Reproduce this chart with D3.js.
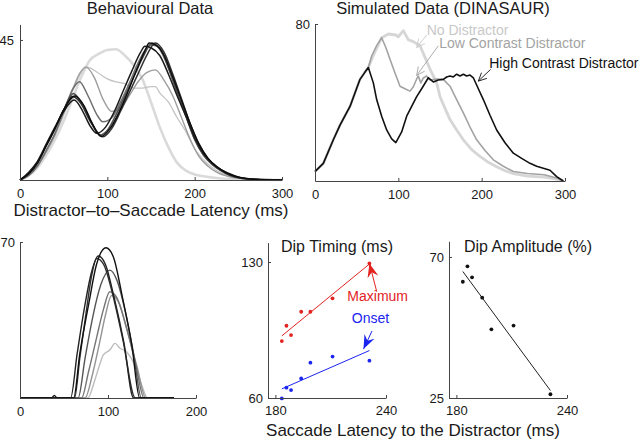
<!DOCTYPE html>
<html><head><meta charset="utf-8">
<script src="https://cdn.jsdelivr.net/npm/d3@7"></script>
<style>body{margin:0;background:#fff}svg{display:block;font-family:"Liberation Sans",Arial,Helvetica,sans-serif}</style>
</head><body><svg id="c" width="640" height="440"></svg>
<script>
// ---------------- DATA ----------------
// Behavioural data: distractor-to-saccade latency (ms) vs density
const behavNoDistractor = [[0,0],[10,1.5],[20,4],[30,8],[40,13],[50,19],[60,26],[70,33],[80,38.5],[90,40.5],[100,41.8],[110,42],[120,40],[130,37],[140,32.5],[150,25],[160,17],[170,10.5],[180,5.5],[190,3],[200,1.8],[210,1.2],[220,0.8],[230,0.5],[240,0.3],[260,0.1],[300,0]];
const behavCond1 = [[0,0],[10,1.5],[20,4.5],[30,9],[40,14.5],[50,21],[60,28.5],[70,34.5],[75,36.4],[80,36],[90,34.3],[100,32.5],[110,31.5],[120,31],[130,29.5],[140,29.5],[150,30],[155,30],[160,28],[170,25],[180,20],[190,15.5],[200,10],[210,6.5],[220,4],[230,2.3],[240,1.2],[250,0.6],[260,0.3],[280,0.1],[300,0]];
const behavCond2 = [[0,0],[10,1.5],[20,4.5],[30,9],[40,14.5],[50,21.5],[60,29],[70,35],[76,36.2],[85,33],[95,26],[105,22],[115,23],[125,27],[135,31.5],[145,34.5],[155,35.4],[165,32],[175,27],[185,20],[195,13],[205,7.5],[215,4.5],[225,2.5],[240,1],[260,0.3],[300,0]];
const behavCond3 = [[0,0],[10,1.5],[20,4.5],[30,9.5],[40,15],[50,22],[60,29],[68,31.6],[78,27],[88,21],[95,18.7],[105,20],[115,25],[125,31],[135,37.5],[145,42.5],[152,44],[160,42],[170,36],[180,28],[190,20.5],[200,13],[210,8],[220,5],[230,3],[240,1.5],[250,0.7],[260,0.3],[300,0]];
const behavCond4 = [[0,0],[10,2],[20,5.5],[30,11],[40,16.5],[50,22.5],[61,27.8],[70,25],[80,19.5],[92,14.5],[100,16],[110,21],[120,27],[130,33],[140,39],[150,43.5],[160,42.5],[170,36],[180,28],[190,20.5],[200,13],[210,8],[220,5],[230,3],[240,1.5],[250,0.7],[260,0.3],[300,0]];
const behavCond5 = [[0,0],[10,2],[20,5.5],[30,11],[40,16.5],[50,22.5],[60,26.8],[70,24.5],[80,19],[95,13.9],[105,16.5],[115,22],[125,28],[135,34],[145,40],[155,44],[165,41],[175,34],[185,26],[195,18],[205,11.5],[215,7],[225,4.3],[235,2.5],[245,1.2],[255,0.6],[270,0.2],[300,0]];
const behavCond6 = [[0,0],[10,2.5],[20,6],[30,11.5],[40,17],[50,22],[62,25.7],[72,22],[80,17.5],[88,15],[98,17],[108,22],[118,28.5],[128,35],[138,41],[143,43],[150,42.5],[160,40],[170,34],[180,27],[190,20.5],[200,13.5],[210,8.5],[220,5.5],[230,3.3],[240,2],[250,1],[260,0.5],[280,0.1],[300,0]];
const behavCond7 = [[0,0],[10,2],[20,5.5],[30,11],[40,16.5],[50,22.5],[63,27],[73,24],[83,18],[93,14],[103,16.5],[113,21.5],[123,28],[133,35],[143,41.5],[148,44],[155,43.5],[165,40],[175,33],[185,25.5],[195,18],[205,11.5],[215,7],[225,4.3],[235,2.5],[245,1.3],[255,0.6],[270,0.2],[300,0]];
const behavSeries = [behavNoDistractor, behavCond1, behavCond2, behavCond3, behavCond4, behavCond5, behavCond6, behavCond7];

// Simulated data (DINASAUR)
const simNoDistractor = [[0,4.8],[10,9],[22,21],[30,28.5],[42,38],[54,51.8],[60,55.5],[64,57.8],[70,64],[80,73],[88,74.9],[97,74.4],[100,73.5],[106,76.6],[112,72],[118,71],[126,68.9],[132,63],[138,57],[146,50],[150,43],[156,37],[162,31.3],[170,26],[178,21],[188,16],[198,12.5],[208,9.5],[218,7.3],[228,5.2],[238,3.7],[255,2.5],[275,2],[290,1],[298,0]];
const simLowContrast = [[0,4.8],[10,9],[22,21],[30,28.5],[42,38],[54,51.8],[60,55.5],[64,57.8],[68,63.7],[74,69],[80,73],[85,68],[90,62],[96,55],[102,48.3],[108,47],[114,45.8],[118,48],[122,52],[124,53.5],[127,50],[130,52.5],[134,53.5],[138,51.5],[146,52],[154,51.8],[162,48.3],[170,41.5],[178,34.7],[186,27.5],[194,21],[204,15.5],[214,10.8],[226,7.5],[238,4.8],[255,3.8],[275,3.2],[290,1.5],[298,0]];
const simHighContrast = [[0,4.8],[10,9],[22,21],[30,28.5],[42,38],[54,51.8],[60,55.5],[64,57.8],[70,50],[74,41.5],[80,33],[86,26],[92,21.5],[97,19.6],[104,25],[110,33],[116,38],[122,43],[128,47],[136,52.6],[142,50.5],[148,51.5],[154,51.8],[158,53],[162,53.5],[166,53],[170,54.4],[174,53.5],[178,54.4],[182,53.5],[186,54],[190,52.6],[196,47],[202,41.5],[210,33.5],[218,26],[228,19.5],[238,14.2],[248,11.5],[258,9],[266,7.5],[274,6.5],[282,5.5],[290,2.2],[298,0]];
const simSeries = [simNoDistractor, simLowContrast, simHighContrast];
const simLabels = ["No Distractor","Low Contrast Distractor","High Contrast Distractor"];
// label anchor (data units) and arrow tail/tip (data units)
const simLabelPos = [[134,74.4],[149,68],[209,57.4]];
const simArrowTail = [[134,74.4],[148,68.9],[210.8,56.9]];
const simArrowTip = [[122,68],[122,53.8],[196,50.9]];

// Bottom-left: dip profiles
const dipA = [[0,0],[36,0],[39,1.2],[42,0],[61,0],[68,20],[78,42],[87,60],[97.7,67.4],[106,63.4],[117,44],[127,24],[136,0],[175,0]];
const dipB = [[0,0],[57.5,0],[65,20],[73,40],[81,56],[89,63.7],[97,60],[107,45],[118,25],[129,0],[175,0]];
const dipC = [[0,0],[62,0],[68,18],[75,38],[81,54],[87,62.6],[95,60],[105,47],[117,26],[131,0],[175,0]];
const dipD = [[0,0],[66,0],[74,18],[83,37],[92,51],[102,57.4],[110,53],[119,40],[129,20],[138,0],[175,0]];
const dipE = [[0,0],[70,0],[78,12],[87,27],[95,40],[102,47.7],[110,45],[120,33],[131,16],[141,0],[175,0]];
const dipF = [[0,0],[74,0],[82,10],[90,24],[97,37],[104,46],[112,43],[122,30],[133,14],[143,0],[175,0]];
const dipG = [[0,0],[77,0],[85,8],[91,15.5],[94.7,19.3],[102,21.5],[108,24.5],[113.6,22.3],[121,20.8],[132.6,12.6],[139,5],[145,0],[175,0]];
const dipSeries = [dipG, dipF, dipE, dipD, dipC, dipB, dipA];

// Dip timing & amplitude vs saccade latency
const saccLatency = [183.5, 186, 188.5, 194, 199, 211, 231];
const dipMaximum = [89.3, 97.2, 92.4, 104.4, 104.4, 111.3, 129.3];
const dipOnset = [59.8, 65.3, 64.1, 70.1, 78.2, 81.3, 79.2];
const dipAmplitude = [62.1, 67.0, 63.5, 57.0, 46.9, 48.1, 26.2];

// tick labels
const p1XTicks = [0,100,200,300], p1YTicks = [45];
const p2XTicks = [0,100,200,300], p2YTicks = [80];
const p3XTicks = [0,100,200], p3YTicks = [70];
const p4XTicks = [180,240], p4YTicks = [60,130];
const p5XTicks = [180,240], p5YTicks = [25,70];

// ---------------- DRAW ----------------
const svg = d3.select("#c");
const FONT = 13;

function axes(sx, sy, xt, yt, padX, padY) {
  const gx = svg.append("g").attr("transform", `translate(0,${sy.range()[0]})`)
    .call(d3.axisBottom(sx).tickValues(xt).tickFormat(d3.format("d")).tickSizeInner(-3).tickSizeOuter(0).tickPadding(padX));
  const gy = svg.append("g").attr("transform", `translate(${sx.range()[0]},0)`)
    .call(d3.axisLeft(sy).tickValues(yt).tickFormat(d3.format("d")).tickSizeInner(-3).tickSizeOuter(0).tickPadding(padY));
  [gx, gy].forEach(g => {
    g.select(".domain").attr("stroke", "#444").attr("stroke-width", 1);
    g.selectAll(".tick line").attr("stroke", "#444");
    g.selectAll(".tick text").attr("fill", "#1a1a1a").style("font-size", FONT + "px").style("font-family", '"Liberation Sans",Arial,sans-serif');
  });
}
function text(x, y, s, size, color, anchor) {
  svg.append("text").attr("x", x).attr("y", y).attr("text-anchor", anchor || "middle")
    .attr("fill", color || "#1a1a1a").style("font-size", size + "px").text(s);
}

// Panel 1
const sx1 = d3.scaleLinear().domain([0,300]).range([20,282]);
const sy1 = d3.scaleLinear().domain([0,50]).range([180,24.4]);
const line1 = d3.line().x(d=>sx1(d[0])).y(d=>sy1(d[1])).curve(d3.curveMonotoneX);
const behavColors = ["#dadada","#c4c4c4","#9d9d9d","#707070","#4d4d4d","#333333","#1c1c1c","#0d0d0d"];
const behavW = [2.6,1.3,1.4,1.5,1.5,1.5,1.5,1.5];
behavSeries.forEach((s,i)=>{
  svg.append("path").attr("d", line1(s)).attr("fill","none").attr("stroke",behavColors[i]).attr("stroke-width",behavW[i]).attr("stroke-linejoin","round");
});
axes(sx1, sy1, p1XTicks, p1YTicks, 9, 6);
text(150, 14, "Behavioural Data", 16.5);
text(151, 216, "Distractor\u2013to\u2013Saccade Latency (ms)", 17);

// Panel 2
const sx2 = d3.scaleLinear().domain([0,300]).range([315,565]);
const sy2 = d3.scaleLinear().domain([0,80]).range([181,24]);
const line2 = d3.line().x(d=>sx2(d[0])).y(d=>sy2(d[1]));
const simColors = ["#d6d6d6","#a3a3a3","#111111"];
const simW = [2.8,1.6,1.6];
const simText = ["#c8c8c8","#a3a3a3","#111111"];
simSeries.forEach((s,i)=>{
  svg.append("path").attr("d", line2(s)).attr("fill","none").attr("stroke",simColors[i]).attr("stroke-width",simW[i]).attr("stroke-linejoin","round");
});
simLabels.forEach((lab,i)=>{
  text(sx2(simLabelPos[i][0]), sy2(simLabelPos[i][1]), lab, 14, simText[i], "start");
  const x1 = sx2(simArrowTail[i][0]), y1 = sy2(simArrowTail[i][1]);
  const x2 = sx2(simArrowTip[i][0]), y2 = sy2(simArrowTip[i][1]);
  const col = i===0 ? "#c8c8c8" : simText[i];
  svg.append("line").attr("x1",x1).attr("y1",y1).attr("x2",x2).attr("y2",y2).attr("stroke",col).attr("stroke-width",0.9);
  const a = Math.atan2(y1-y2, x1-x2), L = 9, h = 0.45;
  const p = `M${x2+L*Math.cos(a+h)},${y2+L*Math.sin(a+h)}L${x2},${y2}L${x2+L*Math.cos(a-h)},${y2+L*Math.sin(a-h)}`;
  svg.append("path").attr("d",p).attr("fill","none").attr("stroke",col).attr("stroke-width",0.9);
});
axes(sx2, sy2, p2XTicks, p2YTicks, 9, 5);
text(443, 14, "Simulated Data (DINASAUR)", 16.5);

// Panel 3
const sx3 = d3.scaleLinear().domain([0,200]).range([20,196]);
const sy3 = d3.scaleLinear().domain([0,70]).range([398,242]);
const line3 = d3.line().x(d=>sx3(d[0])).y(d=>sy3(d[1])).curve(d3.curveMonotoneX);
const dipColors = ["#bdbdbd","#939393","#757575","#555555","#333333","#222222","#111111"];
dipSeries.forEach((s,i)=>{
  svg.append("path").attr("d", line3(s)).attr("fill","none").attr("stroke",dipColors[i]).attr("stroke-width",1.4).attr("stroke-linejoin","round");
});
axes(sx3, sy3, p3XTicks, p3YTicks, 9, 5);

// Panel 4
const sx4 = d3.scaleLinear().domain([176,240]).range([268,386]);
const sy4 = d3.scaleLinear().domain([60,140]).range([398,242.6]);
function fit(xs, ys) {
  const mx = d3.mean(xs), my = d3.mean(ys);
  const b = d3.sum(xs.map((x,i)=>(x-mx)*(ys[i]-my))) / d3.sum(xs.map(x=>(x-mx)*(x-mx)));
  return x => my + b*(x-mx);
}
const RED = "#e2231f", BLUE = "#1c24f0";
[[dipMaximum, RED],[dipOnset, BLUE]].forEach(([ys,col])=>{
  const f = fit(saccLatency, ys);
  const x0 = d3.min(saccLatency), x1 = d3.max(saccLatency);
  svg.append("line").attr("x1",sx4(x0)).attr("y1",sy4(f(x0))).attr("x2",sx4(x1)).attr("y2",sy4(f(x1))).attr("stroke",col).attr("stroke-width",1);
  svg.selectAll(null).data(saccLatency).enter().append("circle")
    .attr("cx",d=>sx4(d)).attr("cy",(d,i)=>sy4(ys[i])).attr("r",1.9).attr("fill",col);
});
function filledArrow(x1,y1,x2,y2,col){
  svg.append("line").attr("x1",x1).attr("y1",y1).attr("x2",x2).attr("y2",y2).attr("stroke",col).attr("stroke-width",1);
  const a = Math.atan2(y1-y2, x1-x2), L = 14, W = 5.5;
  const bx = x2+L*Math.cos(a), by = y2+L*Math.sin(a);
  const nx = x2+0.65*L*Math.cos(a), ny = y2+0.65*L*Math.sin(a);
  const px = -Math.sin(a), py = Math.cos(a);
  svg.append("path").attr("d",`M${x2},${y2}L${bx+W*px},${by+W*py}L${nx},${ny}L${bx-W*px},${by-W*py}Z`).attr("fill",col);
}
filledArrow(sx4(235), sy4(114.7), sx4(231), sy4(129.3), RED);
filledArrow(sx4(232.4), sy4(94.5), sx4(227.8), sy4(85.2), BLUE);
text(sx4(235.5), sy4(109.9), "Maximum", 14, RED);
text(sx4(231.6), sy4(98.7), "Onset", 14, BLUE);
axes(sx4, sy4, p4XTicks, p4YTicks, 8, 5);
text(337, 252, "Dip Timing (ms)", 16);

// Panel 5
const sx5 = d3.scaleLinear().domain([176,240]).range([449,567]);
const sy5 = d3.scaleLinear().domain([25,75]).range([398,241.3]);
{
  const f = fit(saccLatency, dipAmplitude);
  const x0 = d3.min(saccLatency), x1 = d3.max(saccLatency);
  svg.append("line").attr("x1",sx5(x0)).attr("y1",sy5(f(x0))).attr("x2",sx5(x1)).attr("y2",sy5(f(x1))).attr("stroke","#222").attr("stroke-width",1);
  svg.selectAll(null).data(saccLatency).enter().append("circle")
    .attr("cx",d=>sx5(d)).attr("cy",(d,i)=>sy5(dipAmplitude[i])).attr("r",1.9).attr("fill","#111");
}
axes(sx5, sy5, p5XTicks, p5YTicks, 8, 5);
text(528, 252, "Dip Amplitude (%)", 16);
text(413, 436, "Saccade Latency to the Distractor (ms)", 17);
</script></body></html>
